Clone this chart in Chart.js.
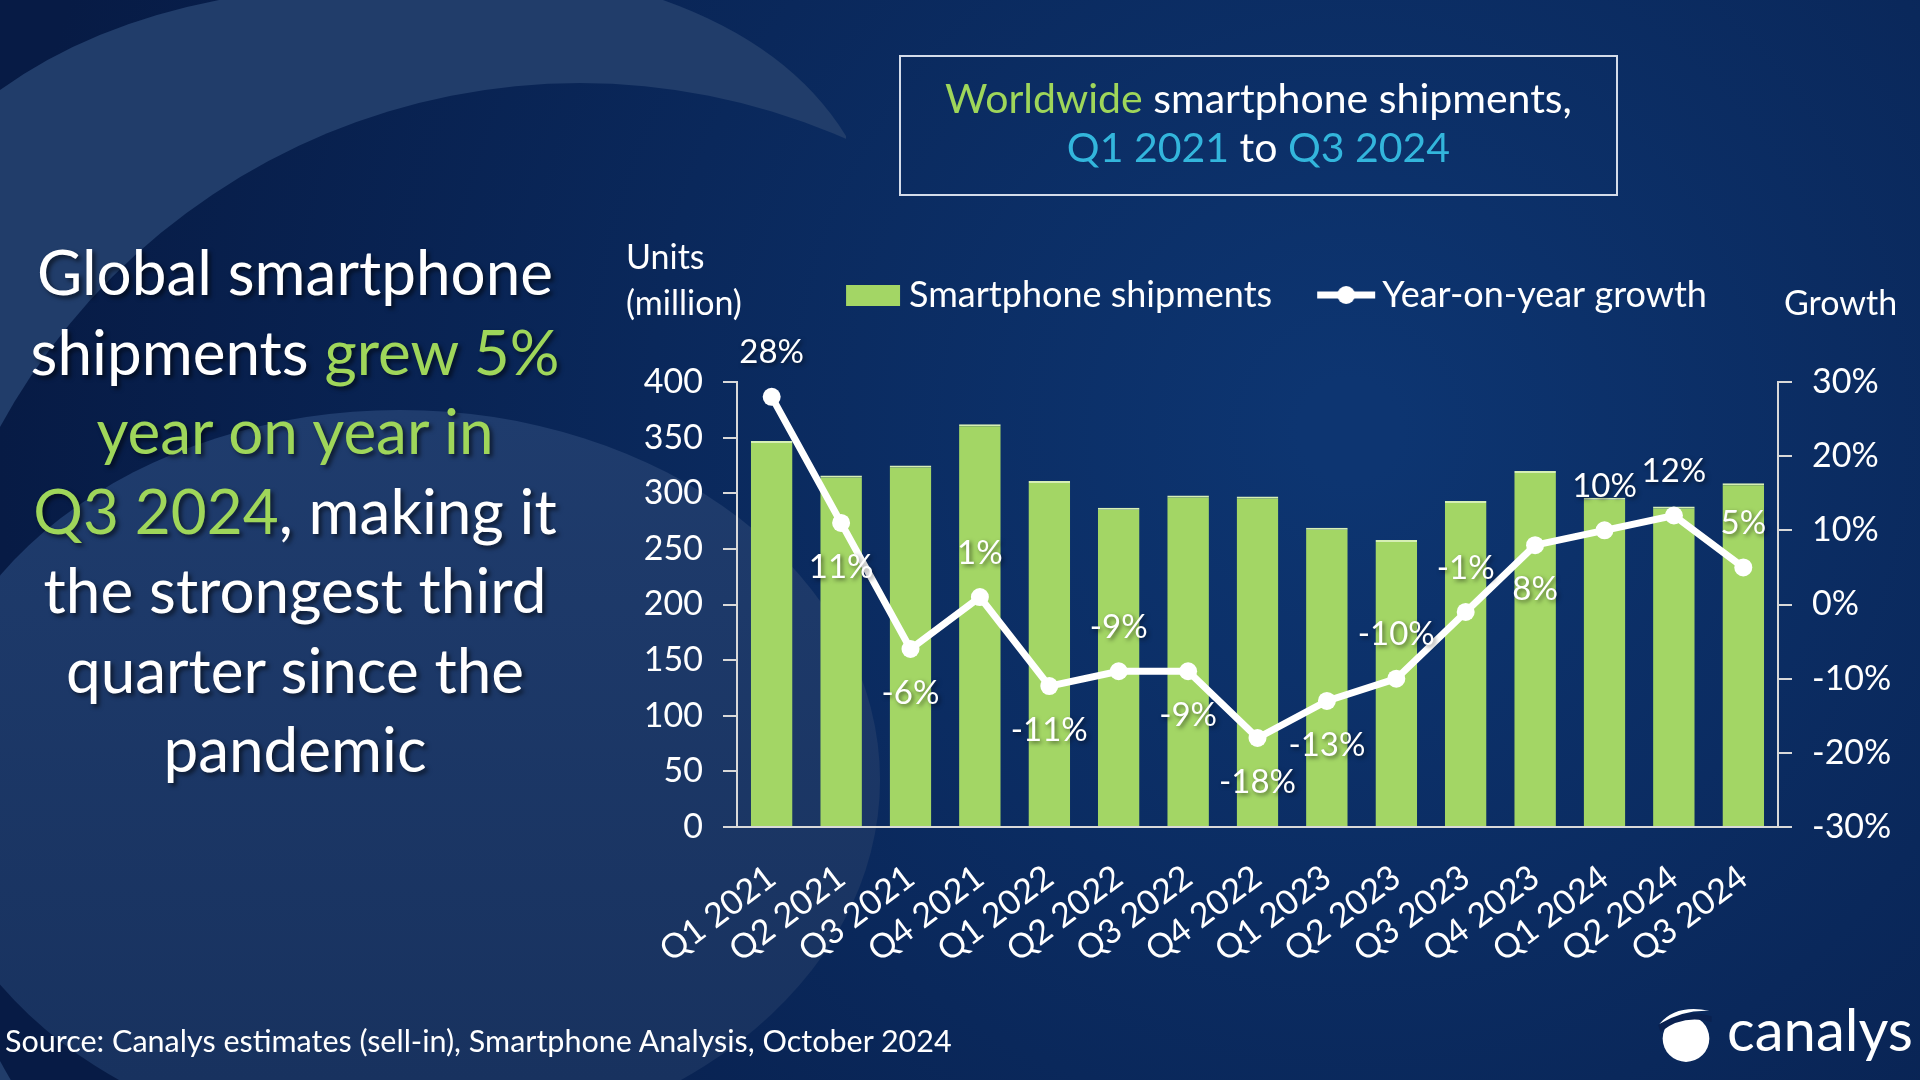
<!DOCTYPE html>
<html>
<head>
<meta charset="utf-8">
<script src="https://cdn.jsdelivr.net/npm/chart.js@4.4.1/dist/chart.umd.min.js"></script>
<style>
  html, body { margin: 0; padding: 0; width: 1920px; height: 1080px; overflow: hidden; background: #0a2250; font-family: Lato, "Open Sans", sans-serif; color: #fff; }
  #bg { position: absolute; left: 0; top: 0; }
  #chartBox { position: absolute; left: 600px; top: 200px; width: 1320px; height: 880px; }
  .green { color: #9fd65a; }
  .cyan { color: #33b6dc; }
  #headline { position: absolute; left: -10px; top: 232px; width: 610px; text-align: center; font-size: 62px; line-height: 79.5px; text-shadow: 3px 3px 4px rgba(0,0,0,0.55); }
  #titleBox { position: absolute; left: 899px; top: 55px; width: 715px; height: 137px; border: 2px solid #d4dcea; text-align: center; font-size: 41px; line-height: 49px; }
  #titleBox div:first-child { margin-top: 16px; }
  #units { position: absolute; left: 626px; top: 233px; font-size: 34px; line-height: 46px; }
  #growthTitle { position: absolute; left: 1784px; top: 279px; font-size: 34px; line-height: 46px; }
  #source { position: absolute; left: 5px; top: 1022px; font-size: 30.5px; line-height: 36px; }
  #logo { position: absolute; left: 1657px; top: 1002px; height: 62px; display: flex; align-items: center; }
  #logo span { font-size: 58px; margin-left: 12px; line-height: 62px; position: relative; top: -4px; }
</style>
</head>
<body>
<canvas id="bg" width="1920" height="1080"></canvas>

<div id="headline">
  Global smartphone<br>
  shipments <span class="green">grew 5%</span><br>
  <span class="green">year on year in</span><br>
  <span class="green">Q3 2024</span>, making it<br>
  the strongest third<br>
  quarter since the<br>
  pandemic
</div>

<div id="titleBox">
  <div><span class="green">Worldwide</span> smartphone shipments,</div>
  <div><span class="cyan">Q1 2021</span> to <span class="cyan">Q3 2024</span></div>
</div>

<div id="units">Units<br>(million)</div>
<div id="growthTitle">Growth</div>

<div id="chartBox"><canvas id="chart" width="1320" height="880"></canvas></div>

<div id="source">Source: Canalys estimates (sell-in), Smartphone Analysis, October 2024</div>

<div id="logo">
  <svg width="58" height="60" viewBox="0 0 50 54">
    <circle cx="25" cy="32" r="21" fill="#fff"/>
    <path d="M0 20 Q20 4 48 12 L48 17 Q22 10 2 26 Z" fill="#0a2150"/>
    <path d="M1 19 Q16 1 46 7 Q22 6 1 19 Z" fill="#fff"/>
  </svg>
  <span>canalys</span>
</div>

<script>
const quarters = ["Q1 2021", "Q2 2021", "Q3 2021", "Q4 2021", "Q1 2022", "Q2 2022", "Q3 2022", "Q4 2022",
                  "Q1 2023", "Q2 2023", "Q3 2023", "Q4 2023", "Q1 2024", "Q2 2024", "Q3 2024"];
const shipments = [347, 316, 325, 362, 311, 287, 298, 297, 269, 258, 293, 320, 296, 288, 309];
const growth = [28, 11, -6, 1, -11, -9, -9, -18, -13, -10, -1, 8, 10, 12, 5];

// where each growth label sits relative to its point
const labelSide = ["above", "below", "below", "above", "below", "above", "below", "below",
                   "below", "above", "above", "below", "above", "above", "above"];

const barGreen = "#a3d665";
const axisGrey = "#d9d9d9";

// background swooshes
const bg = document.getElementById("bg").getContext("2d");
function baseFill() {
    const grad = bg.createRadialGradient(1350, 430, 50, 1350, 430, 1350);
    grad.addColorStop(0, "#0d3571");
    grad.addColorStop(1, "#071b45");
    return grad;
}
bg.fillStyle = baseFill();
bg.fillRect(0, 0, 1920, 1080);
bg.save();
bg.beginPath(); bg.rect(0, 0, 860, 1080); bg.clip();
bg.fillStyle = "#213d6a";
bg.beginPath();
bg.moveTo(0, 90);
bg.quadraticCurveTo(90, 25, 219, 0);
bg.lineTo(663, 0);
bg.quadraticCurveTo(790, 45, 846, 136);
bg.lineTo(846, 1080);
bg.lineTo(0, 1080);
bg.closePath();
bg.fill();
bg.fillStyle = baseFill();
bg.beginPath(); bg.arc(580, 744, 661, 0, Math.PI * 2); bg.fill();
bg.restore();
const low = bg.createLinearGradient(0, 410, 0, 1080);
low.addColorStop(0, "#1f3c6d");
low.addColorStop(1, "#18325f");
bg.fillStyle = low;
bg.beginPath(); bg.ellipse(400, 780, 480, 370, 0, 0, Math.PI * 2); bg.fill();

function legendIcon(kind) {
    const c = document.createElement("canvas");
    c.width = 60; c.height = 26;
    const g = c.getContext("2d");
    if (kind === "bar") {
        g.fillStyle = barGreen;
        g.fillRect(3, 3, 54, 21);
    } else {
        g.strokeStyle = "#fff";
        g.lineWidth = 7;
        g.beginPath(); g.moveTo(1, 13); g.lineTo(59, 13); g.stroke();
        g.fillStyle = "#fff";
        g.beginPath(); g.arc(30, 13, 9, 0, Math.PI * 2); g.fill();
    }
    return c;
}
const icons = [legendIcon("bar"), legendIcon("line")];

const legendGap = {
    id: "legendGap",
    beforeInit(chart) {
        const fit = chart.legend.fit;
        chart.legend.fit = function () {
            fit.call(this);
            this.height = 161;
        };
    }
};

const growthLabels = {
    id: "growthLabels",
    afterDatasetsDraw(chart) {
        const ctx = chart.ctx;
        const meta = chart.getDatasetMeta(1);
        ctx.save();
        ctx.font = "33px Lato";
        ctx.fillStyle = "#fff";
        ctx.textAlign = "center";
        ctx.textBaseline = "middle";
        ctx.shadowColor = "rgba(0,0,0,0.5)";
        ctx.shadowBlur = 4;
        ctx.shadowOffsetX = 2;
        ctx.shadowOffsetY = 2;
        meta.data.forEach((pt, i) => {
            const dy = labelSide[i] === "above" ? -44 : 44;
            ctx.fillText(growth[i] + "%", pt.x, pt.y + dy);
        });
        ctx.restore();
    }
};

Chart.defaults.font.family = "Lato";
Chart.defaults.color = "#fff";

new Chart(document.getElementById("chart").getContext("2d"), {
    type: "bar",
    data: {
        labels: quarters,
        datasets: [
            {
                label: "Smartphone shipments",
                data: shipments,
                backgroundColor: barGreen,
                borderColor: "#d6efb4",
                borderWidth: { top: 2, left: 0, right: 0, bottom: 0 },
                borderSkipped: "bottom",
                barPercentage: 0.6,
                categoryPercentage: 1,
                yAxisID: "y",
                order: 2
            },
            {
                type: "line",
                label: "Year-on-year growth",
                data: growth,
                borderColor: "#fff",
                backgroundColor: "#fff",
                borderWidth: 7,
                pointRadius: 9,
                pointBackgroundColor: "#fff",
                pointBorderWidth: 0,
                tension: 0,
                yAxisID: "y1",
                order: 1
            }
        ]
    },
    options: {
        responsive: false,
        animation: false,
        maintainAspectRatio: false,
        layout: {
            padding: { left: 42, right: 0, top: 21, bottom: 0 }
        },
        plugins: {
            legend: {
                display: true,
                position: "top",
                labels: {
                    usePointStyle: true,
                    pointStyleWidth: 36,
                    boxHeight: 26,
                    padding: 56,
                    color: "#fff",
                    font: { size: 36 },
                    generateLabels(chart) {
                        return chart.data.datasets.map((ds, i) => ({
                            text: ds.label,
                            pointStyle: icons[i],
                            fillStyle: "#fff",
                            strokeStyle: "#fff",
                            lineWidth: 0,
                            hidden: false,
                            datasetIndex: i,
                            fontColor: "#fff"
                        }));
                    }
                }
            },
            tooltip: { enabled: false }
        },
        scales: {
            x: {
                offset: true,
                grid: { display: false },
                border: { display: true, color: axisGrey, width: 2 },
                ticks: {
                    autoSkip: false,
                    minRotation: 37,
                    maxRotation: 37,
                    padding: 22,
                    color: "#fff",
                    font: { size: 34 }
                },
                afterFit(scale) { scale.height = 253; }
            },
            y: {
                position: "left",
                min: 0,
                max: 400,
                grid: { drawOnChartArea: false, drawTicks: true, tickLength: 14, color: axisGrey, lineWidth: 2 },
                border: { display: true, color: axisGrey, width: 2 },
                ticks: { stepSize: 50, padding: 20, color: "#fff", font: { size: 34 } },
                afterFit(scale) { scale.width = 95; }
            },
            y1: {
                position: "right",
                min: -30,
                max: 30,
                grid: { drawOnChartArea: false, drawTicks: true, tickLength: 14, color: axisGrey, lineWidth: 2 },
                border: { display: true, color: axisGrey, width: 2 },
                ticks: {
                    stepSize: 10,
                    padding: 20,
                    color: "#fff",
                    font: { size: 34 },
                    callback: (v) => v + "%"
                },
                afterFit(scale) { scale.width = 142; }
            }
        }
    },
    plugins: [legendGap, growthLabels]
});
</script>
</body>
</html>
